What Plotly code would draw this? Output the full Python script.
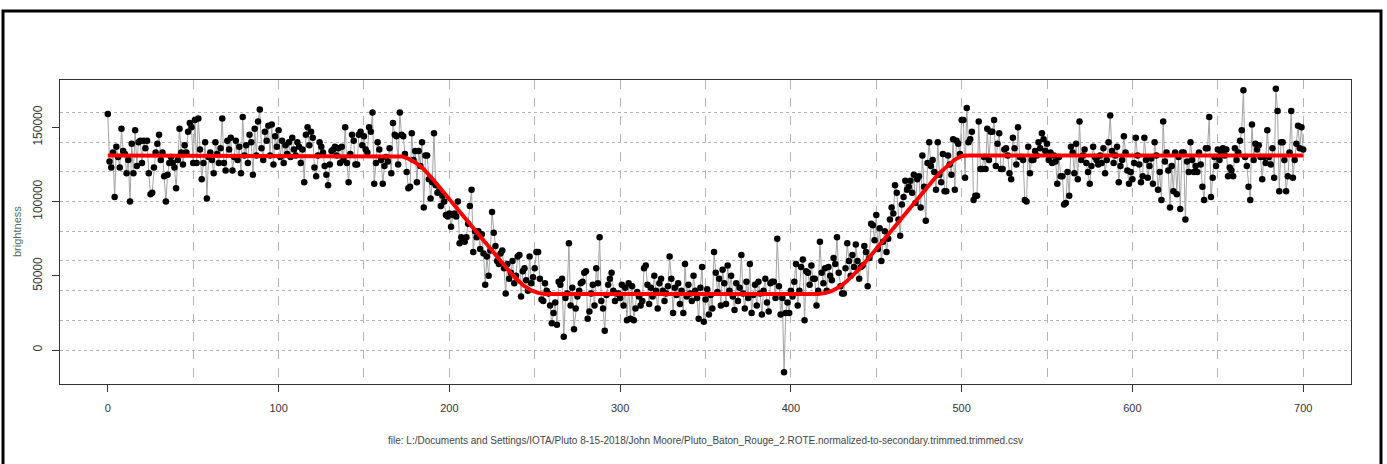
import plotly.graph_objects as go

# Observed brightness per frame (in thousands), frames 0..700
brightness_k = [
    159, 127, 123, 133, 103, 137, 130, 123, 149, 134,
    132, 119, 128, 100, 139, 119, 148, 124, 140, 141,
    126, 141, 136, 141, 119, 105, 106, 123, 133, 139,
    145, 128, 133, 117, 100, 118, 126, 130, 126, 123,
    109, 128, 149, 133, 125, 138, 133, 147, 153, 150,
    126, 155, 126, 156, 135, 115, 126, 140, 102, 130,
    133, 128, 119, 140, 132, 126, 136, 156, 126, 121,
    141, 135, 143, 121, 130, 141, 128, 137, 119, 157,
    131, 138, 126, 145, 140, 118, 149, 131, 154, 162,
    136, 128, 147, 141, 151, 131, 152, 125, 144, 137,
    148, 130, 141, 126, 138, 132, 140, 130, 143, 135,
    131, 140, 137, 126, 135, 113, 145, 150, 138, 147,
    143, 123, 117, 131, 140, 137, 133, 124, 118, 111,
    125, 134, 135, 137, 131, 136, 126, 137, 128, 150,
    126, 113, 132, 145, 141, 125, 125, 145, 147, 138,
    144, 135, 133, 150, 147, 160, 112, 126, 140, 135,
    128, 112, 124, 130, 127, 136, 119, 153, 145, 144,
    125, 160, 145, 144, 132, 120, 109, 110, 146, 128,
    134, 113, 134, 124, 140, 96, 131, 131, 115, 102,
    113, 146, 111, 106, 107, 97, 104, 100, 91, 90,
    92, 83, 91, 92, 90, 100, 72, 76, 74, 73,
    76, 85, 97, 108, 66, 80, 76, 80, 68, 78,
    65, 44, 63, 50, 67, 93, 79, 70, 60, 58,
    65, 67, 55, 38, 58, 48, 52, 60, 45, 50,
    63, 64, 36, 53, 55, 47, 40, 63, 45, 49,
    55, 66, 66, 48, 34, 33, 45, 40, 38, 30,
    18, 25, 32, 17, 46, 44, 48, 9, 35, 38,
    72, 30, 42, 14, 28, 36, 40, 45, 46, 52,
    53, 21, 26, 38, 44, 30, 55, 45, 76, 33,
    28, 13, 37, 44, 48, 52, 40, 33, 38, 38,
    35, 44, 30, 42, 20, 45, 21, 43, 20, 28,
    39, 36, 30, 33, 55, 57, 44, 31, 42, 36,
    50, 40, 28, 45, 48, 40, 33, 38, 43, 63,
    48, 25, 42, 37, 45, 31, 40, 25, 58, 36,
    44, 38, 33, 50, 40, 35, 21, 42, 56, 19,
    34, 41, 24, 37, 28, 66, 52, 39, 48, 30,
    54, 45, 31, 57, 40, 50, 36, 27, 45, 33,
    42, 64, 38, 28, 46, 35, 58, 25, 37, 44,
    30, 46, 38, 24, 40, 48, 32, 26, 45, 46,
    46, 35, 75, 43, 24, 35, -15, 25, 32, 25,
    40, 36, 46, 58, 30, 40, 56, 61, 20, 53,
    52, 44, 57, 48, 48, 30, 40, 73, 52, 45,
    55, 40, 56, 50, 47, 62, 58, 76, 52, 43,
    38, 38, 55, 72, 60, 50, 64, 56, 71, 60,
    48, 56, 57, 70, 66, 43, 62, 85, 84, 74,
    91, 68, 82, 60, 73, 80, 66, 75, 88, 96,
    92, 111, 106, 88, 77, 98, 103, 114, 108, 110,
    114, 106, 118, 99, 115, 117, 96, 131, 110, 87,
    126, 140, 124, 128, 120, 108, 140, 118, 113, 132,
    107, 107, 131, 125, 118, 142, 108, 141, 139, 132,
    155, 155, 116, 163, 140, 142, 147, 101, 104, 104,
    154, 122, 122, 130, 122, 149, 128, 147, 147, 155,
    124, 139, 146, 122, 122, 135, 136, 131, 119, 115,
    143, 136, 125, 150, 130, 130, 128, 101, 100, 137,
    119, 128, 128, 134, 131, 140, 136, 146, 142, 134,
    139, 128, 133, 126, 131, 127, 112, 130, 117, 117,
    98, 99, 120, 104, 137, 133, 119, 139, 115, 154,
    128, 131, 135, 126, 120, 112, 124, 137, 130, 128,
    125, 131, 126, 136, 119, 128, 140, 158, 134, 126,
    131, 137, 113, 124, 128, 144, 133, 121, 112, 120,
    115, 126, 143, 131, 125, 113, 117, 143, 128, 116,
    124, 129, 112, 140, 131, 108, 120, 101, 154, 127,
    133, 121, 96, 124, 107, 133, 105, 130, 95, 133,
    133, 88, 127, 120, 140, 128, 120, 124, 120, 133,
    125, 110, 101, 136, 136, 157, 103, 116, 130, 124,
    135, 128, 133, 136, 131, 135, 117, 123, 121, 117,
    136, 128, 133, 141, 148, 175, 130, 124, 110, 101,
    152, 128, 139, 135, 138, 130, 115, 130, 126, 148,
    130, 125, 136, 116, 176, 161, 107, 140, 140, 128,
    107, 117, 133, 161, 116, 128, 139, 151, 136, 150,
    135,
]
brightness = [v * 1000 for v in brightness_k]
frames = list(range(len(brightness)))

# Fitted occultation model (red curve)
model_x = [0, 168, 172, 176, 180, 185, 190, 200, 210, 220,
           228, 232, 236, 240, 244, 248, 252, 256, 260, 416,
           420, 424, 428, 432, 436, 440, 450, 460, 470, 476,
           480, 484, 488, 492, 496, 500, 504, 700]
model_y = [131000, 131000, 130400, 128900, 126400, 121800, 115500, 101500, 87500, 73500,
           62300, 57000, 51800, 47000, 43000, 40200, 38500, 37800, 37700, 37700,
           38300, 39800, 42200, 45600, 49800, 54500, 68000, 82000, 96000, 104500,
           110000, 115400, 120200, 124600, 128300, 130700, 131000, 131000]

x_ticks = [0, 100, 200, 300, 400, 500, 600, 700]
y_ticks = [0, 50000, 100000, 150000]
x_grid = [50, 100, 150, 200, 250, 300, 350, 400, 450, 500, 550, 600, 650, 700]
y_grid = [0, 20000, 40000, 60000, 80000, 100000, 120000, 140000, 160000]

x_title = ("file: L:/Documents and Settings/IOTA/Pluto 8-15-2018/John Moore/"
           "Pluto_Baton_Rouge_2.ROTE.normalized-to-secondary.trimmed.trimmed.csv")
y_title = "brightness"

X_RANGE = [-28, 728]
Y_RANGE = [-22900, 181900]

W, H = 1387, 464
L, R, T, B = 60, 36, 80, 80
pw, ph = W - L - R, H - T - B

sans = "Liberation Sans, Arial, sans-serif"

fig = go.Figure()

# invisible trace on grid axes so they render
fig.add_trace(go.Scatter(x=[X_RANGE[0]], y=[Y_RANGE[0]], xaxis="x2", yaxis="y2",
                         mode="markers", marker=dict(opacity=0), showlegend=False,
                         hoverinfo="skip"))

fig.add_trace(go.Scatter(
    x=frames, y=brightness, mode="lines+markers",
    line=dict(color="#a3a3a3", width=1),
    marker=dict(color="black", size=6.5, line=dict(width=0)),
    showlegend=False,
))
fig.add_trace(go.Scatter(
    x=model_x, y=model_y, mode="lines",
    line=dict(color="#ff0000", width=4),
    showlegend=False,
))

fig.update_layout(
    width=W, height=H,
    margin=dict(l=L, r=R, t=T, b=B),
    paper_bgcolor="white", plot_bgcolor="white",
    xaxis=dict(
        range=X_RANGE, tickvals=x_ticks, ticktext=[str(v) for v in x_ticks],
        showgrid=False, zeroline=False,
        showline=True, mirror=True, linecolor="#333333", linewidth=1,
        ticks="outside", ticklen=7, tickcolor="#333333", tickwidth=1,
        ticklabelstandoff=7,
        tickfont=dict(family=sans, size=11, color="#333333"),
    ),
    yaxis=dict(
        range=Y_RANGE, tickvals=y_ticks, ticktext=[str(v) for v in y_ticks],
        showgrid=False, zeroline=False,
        showline=True, mirror=True, linecolor="#333333", linewidth=1,
        ticks="outside", ticklen=7, tickcolor="#333333", tickwidth=1,
        tickangle=-90, ticklabelstandoff=5,
        tickfont=dict(family=sans, size=12, color="#333333"),
    ),
    xaxis2=dict(
        range=X_RANGE, overlaying="x", tickvals=x_grid, showticklabels=False,
        showgrid=True, gridcolor="#b4b4b4", griddash="dash", gridwidth=1,
        zeroline=False, showline=False, ticks="", layer="below traces",
    ),
    yaxis2=dict(
        range=Y_RANGE, overlaying="y", tickvals=y_grid, showticklabels=False,
        showgrid=True, gridcolor="#b4b4b4", griddash="dot", gridwidth=1,
        zeroline=False, showline=False, ticks="", layer="below traces",
    ),
    annotations=[
        dict(text=x_title, xref="paper", yref="paper", x=0.5,
             y=((H - B) - 440) / ph,
             showarrow=False, xanchor="center", yanchor="middle",
             font=dict(family=sans, size=10, color="#444444")),
        dict(text=y_title, xref="paper", yref="paper",
             x=(17 - L) / pw, y=0.5, textangle=-90,
             showarrow=False, xanchor="center", yanchor="middle",
             font=dict(family=sans, size=11, color="#4f6b62")),
    ],
    shapes=[
        dict(type="rect", xref="paper", yref="paper",
             x0=(3 - L) / pw, x1=(1381 - L) / pw,
             y0=(H - B - 480) / ph, y1=(H - B - 11) / ph,
             line=dict(color="black", width=3), fillcolor="rgba(0,0,0,0)",
             layer="above"),
    ],
)

fig.write_html("out.html")
